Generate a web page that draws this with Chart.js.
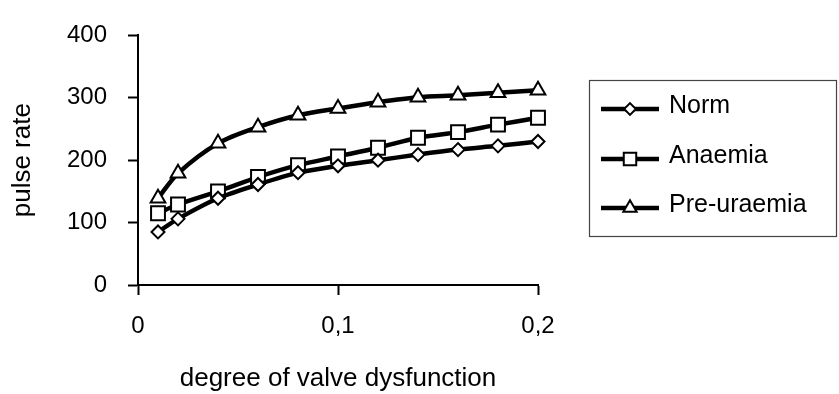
<!DOCTYPE html>
<html><head><meta charset="utf-8">
<script src="https://cdn.jsdelivr.net/npm/chart.js@4"></script>
<style>html,body{margin:0;padding:0;background:#fff}canvas{display:block}</style>
</head><body>
<canvas id="c" width="839" height="394"></canvas>
<script>
const xValues = [0.01, 0.02, 0.04, 0.06, 0.08, 0.10, 0.12, 0.14, 0.16, 0.18, 0.20];
const seriesNames = ['Norm', 'Anaemia', 'Pre-uraemia'];
const norm = [85, 106, 139, 161, 180, 191, 200, 209, 217, 223, 230];
const anaemia = [115, 129, 150, 173, 192, 206, 220, 236, 245, 257, 268];
const preUraemia = [139, 179, 227, 253, 272, 283, 293, 301, 304, 308, 312];
const xTickValues = [0, 0.1, 0.2];
const xTickLabels = ['0', '0,1', '0,2'];
const yTickValues = [0, 100, 200, 300, 400];
const yTickLabels = ['0', '100', '200', '300', '400'];
const xTitle = 'degree of valve dysfunction';
const yTitle = 'pulse rate';

const FONT = '"Liberation Sans", Arial, sans-serif';
const TICK_FS = 24, TITLE_FS = 26, LEGEND_FS = 25;
const markerStyles = ['rectRot', 'rect', 'triangle'];
const markerRadii = [6.5, 9.8, 8.5];
const seriesValues = [norm, anaemia, preUraemia];

function pts(vals) { return vals.map((v, i) => ({x: xValues[i], y: v})); }

const datasets = seriesNames.map((name, i) => ({
  label: name,
  data: pts(seriesValues[i]),
  borderColor: '#000',
  borderWidth: 4.5,
  backgroundColor: '#fff',
  pointStyle: markerStyles[i],
  pointRadius: markerRadii[i],
  pointBorderWidth: 2,
  pointBorderColor: '#000',
  pointBackgroundColor: '#fff',
  tension: 0.3,
  borderJoinStyle: 'round',
  clip: false
}));

function drawMarker(ctx, style, r, x, y) {
  ctx.beginPath();
  if (style === 'rect') {
    const s = Math.SQRT1_2 * r;
    ctx.rect(x - s, y - s, 2 * s, 2 * s);
  } else if (style === 'rectRot') {
    ctx.moveTo(x, y - r); ctx.lineTo(x + r, y); ctx.lineTo(x, y + r); ctx.lineTo(x - r, y); ctx.closePath();
  } else {
    const h = Math.sin(Math.PI / 3) * r;
    ctx.moveTo(x, y - r);
    ctx.lineTo(x + h, y + r / 2);
    ctx.lineTo(x - h, y + r / 2);
    ctx.closePath();
  }
  ctx.fillStyle = '#fff'; ctx.fill();
  ctx.lineWidth = 2; ctx.strokeStyle = '#000'; ctx.stroke();
}

const boxLegend = {
  id: 'boxLegend',
  afterDraw(chart) {
    const ctx = chart.ctx;
    ctx.save();
    ctx.strokeStyle = '#444';
    ctx.lineWidth = 1.2;
    ctx.strokeRect(589.5, 80.5, 247, 156);
    const rows = [109, 159, 208];
    chart.data.datasets.forEach((ds, i) => {
      const y = rows[i];
      ctx.beginPath();
      ctx.moveTo(601, y); ctx.lineTo(659, y);
      ctx.lineWidth = 4.5; ctx.strokeStyle = '#000'; ctx.lineCap = 'butt';
      ctx.stroke();
      drawMarker(ctx, ds.pointStyle, ds.pointRadius * 0.9, 630, y);
      ctx.fillStyle = '#000';
      ctx.font = LEGEND_FS + 'px ' + FONT;
      ctx.textBaseline = 'middle';
      ctx.textAlign = 'left';
      ctx.fillText(ds.label, 669, y - 3);
    });
    ctx.restore();
  }
};

new Chart(document.getElementById('c'), {
  type: 'line',
  data: {datasets},
  options: {
    responsive: false,
    animation: false,
    layout: {padding: {left: 0, top: 32, right: 301, bottom: 0}},
    plugins: {legend: {display: false}, tooltip: {enabled: false}},
    scales: {
      x: {
        type: 'linear', min: 0, max: 0.2,
        afterBuildTicks(s) { s.ticks = xTickValues.map(v => ({value: v})); },
        afterFit(s) { s.height = 109; },
        ticks: {
          callback: (v) => xTickLabels[xTickValues.findIndex(t => Math.abs(t - v) < 1e-9)],
          color: '#000', font: {family: FONT, size: TICK_FS}, padding: 17, maxRotation: 0
        },
        grid: {display: true, drawOnChartArea: false, drawTicks: true, tickLength: 10, tickWidth: 2, tickColor: '#000'},
        border: {display: true, color: '#000', width: 2},
        title: {display: true, text: xTitle, color: '#000', font: {family: FONT, size: TITLE_FS}, padding: {top: 0, bottom: 0}}
      },
      y: {
        min: 0, max: 400,
        afterBuildTicks(s) { s.ticks = yTickValues.map(v => ({value: v})); },
        afterFit(s) { s.width = 138; },
        ticks: {
          callback: (v) => yTickLabels[yTickValues.indexOf(v)],
          color: '#000', font: {family: FONT, size: TICK_FS}, padding: 21
        },
        grid: {display: true, drawOnChartArea: false, drawTicks: true, tickLength: 10, tickWidth: 2, tickColor: '#000'},
        border: {display: true, color: '#000', width: 2},
        title: {display: true, text: yTitle, color: '#000', font: {family: FONT, size: TITLE_FS}, padding: {top: 7, bottom: 0}}
      }
    }
  },
  plugins: [boxLegend]
});
</script>
</body></html>
